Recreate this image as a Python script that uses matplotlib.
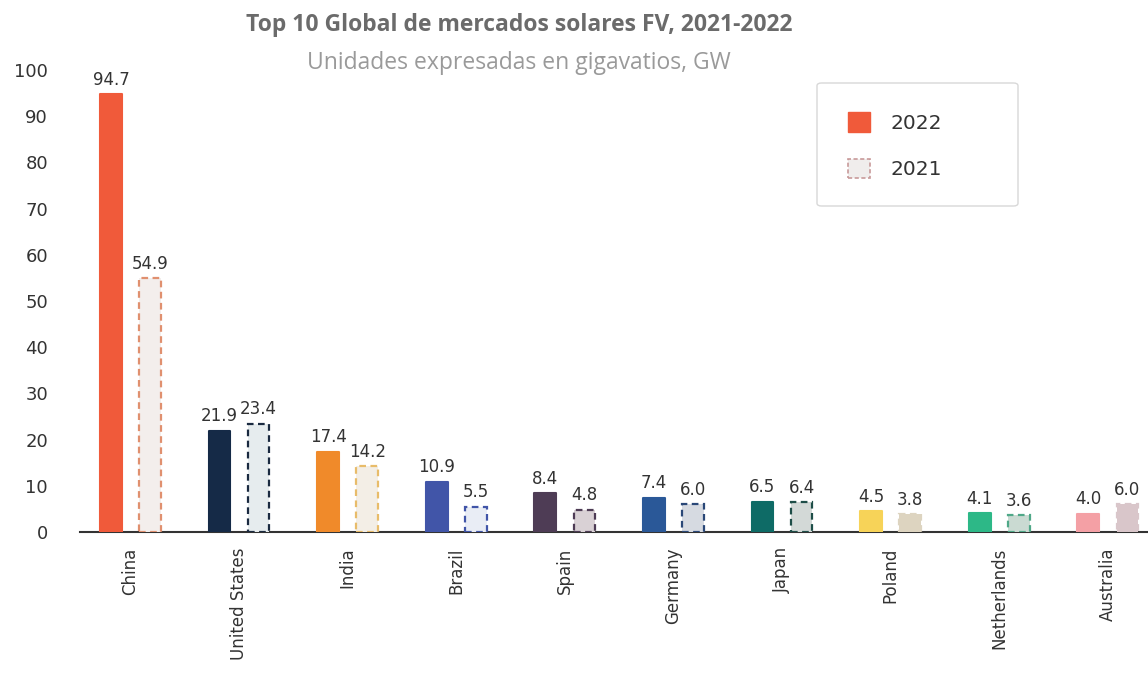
import matplotlib
matplotlib.use("Agg")
import matplotlib.pyplot as plt
from matplotlib.patches import Patch, FancyBboxPatch
import numpy as np

countries = ["China", "United States", "India", "Brazil", "Spain", "Germany",
             "Japan", "Poland", "Netherlands", "Australia"]
v2022 = [94.7, 21.9, 17.4, 10.9, 8.4, 7.4, 6.5, 4.5, 4.1, 4.0]
v2021 = [54.9, 23.4, 14.2, 5.5, 4.8, 6.0, 6.4, 3.8, 3.6, 6.0]
yticks = [0, 10, 20, 30, 40, 50, 60, 70, 80, 90, 100]

c2022 = ["#F05A3A", "#152A47", "#F08A2A", "#4155A8", "#4E3C55", "#2A5898",
         "#0E6B66", "#F7D358", "#2DB887", "#F4A0A5"]
f2021 = ["#F3EEEC", "#E6ECEE", "#F3EEE6", "#E9EDF5", "#D9D1D5", "#D6DAE1",
         "#D3D9D7", "#DDD4C0", "#CADAD2", "#D9C6CA"]
e2021 = ["#E0906F", "#1A2A40", "#E8BC6A", "#4155A8", "#4E3C55", "#2A4878",
         "#1E4E48", "#DDD4C0", "#4FA888", "#D9C6CA"]

fig = plt.figure(figsize=(11.48, 6.87), dpi=100)
ax = fig.add_axes([80/1148, 1-532/687, 1-80/1148, (532-70)/687])

x = np.arange(len(countries))
off = 0.18
w = 0.2
ax.bar(x - off, v2022, width=w, color=c2022, edgecolor=c2022, linewidth=1.5,
       joinstyle="round", zorder=3)
ax.bar(x + off, v2021, width=w, color=f2021, edgecolor=e2021,
       linestyle=(0, (3, 2)), linewidth=1.6, zorder=3)

num_font = dict(family="DejaVu Sans", fontsize=12, color="#333333")
for i in range(len(countries)):
    ax.annotate(f"{v2022[i]:.1f}", (x[i] - off, v2022[i]), xytext=(0, 4),
                textcoords="offset points", ha="center", va="bottom",
                annotation_clip=False, **num_font)
    ax.annotate(f"{v2021[i]:.1f}", (x[i] + off, v2021[i]), xytext=(0, 4),
                textcoords="offset points", ha="center", va="bottom",
                annotation_clip=False, **num_font)

ax.set_xlim(-0.465, 9.37)
ax.set_ylim(0, 100)
ax.set_yticks(yticks)
ax.set_yticklabels([str(t) for t in yticks], fontsize=13, color="#333333",
                   family="DejaVu Sans")
ax.tick_params(axis="y", length=0, pad=23)
ax.set_xticks(x)
ax.set_xticklabels(countries, rotation=90, fontsize=12, color="#333333",
                   family="DejaVu Sans")
ax.tick_params(axis="x", length=0, pad=11)
for s in ["top", "right", "left"]:
    ax.spines[s].set_visible(False)
ax.spines["bottom"].set_color("#333333")
ax.spines["bottom"].set_linewidth(1.5)

fig.text(519/1148, 1-25/687, "Top 10 Global de mercados solares FV, 2021-2022",
         ha="center", va="center", fontsize=16.5, fontweight="bold",
         color="#6b6b6b", family="Open Sans")
fig.text(519/1148, 1-63/687, "Unidades expresadas en gigavatios, GW",
         ha="center", va="center", fontsize=16.5, color="#9a9a9a",
         family="Open Sans")

# legend frame
frame = FancyBboxPatch((817/1148, 1-206/687), (1018-817)/1148, (206-83)/687,
                       boxstyle="round,pad=0,rounding_size=0.004",
                       transform=fig.transFigure, facecolor="white",
                       edgecolor="#d8d8d8", linewidth=1.0, zorder=5)
fig.patches.append(frame)

handles = [Patch(facecolor="#F05A3A", edgecolor="#F05A3A", label="2022"),
           Patch(facecolor="#F0EDEC", edgecolor="#C89A9A",
                 linestyle=(0, (2.5, 1.5)), linewidth=1.2, label="2021")]
leg = fig.legend(handles=handles, loc="upper left",
                 bbox_to_anchor=(822/1148, 1-86/687), borderaxespad=0,
                 handlelength=1.1, handleheight=1.1, labelspacing=1.3,
                 borderpad=1.3, handletextpad=1.0, frameon=False,
                 prop={"family": "DejaVu Sans", "size": 14.5})
leg.set_zorder(6)
for t in leg.get_texts():
    t.set_color("#333333")

fig.savefig("out.png", dpi=100)
